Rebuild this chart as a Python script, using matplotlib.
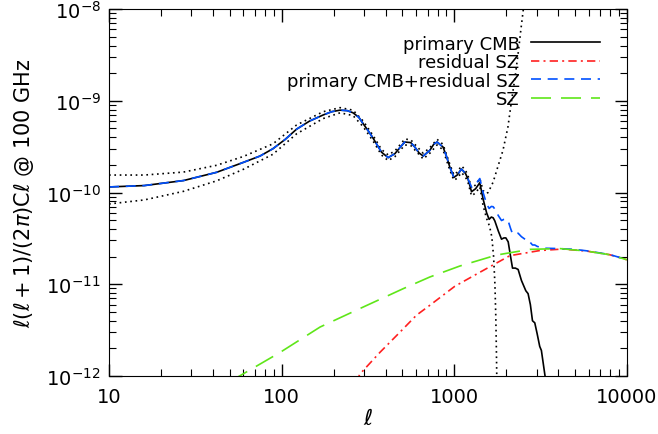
import numpy as np
import matplotlib.pyplot as plt

# primary CMB
ell_cmb = [10, 16, 27, 42, 60, 75, 89, 105, 122, 145, 174, 195, 218, 240, 259, 280,
           297, 320, 340, 379, 414, 453, 485, 517, 560, 591, 625, 661, 722, 760, 795,
           861, 900, 942, 995, 1040, 1101, 1160, 1202,
           1259, 1330, 1406, 1469, 1540, 1592, 1640, 1680, 1718, 1800, 1878, 1940,
           1990, 2053, 2120, 2175, 2260, 2344, 2450, 2597, 2677, 2760, 2839, 2927,
           3020, 3127, 3197, 3342, 3450]
cl_cmb = [1.15e-10, 1.19e-10, 1.35e-10, 1.66e-10, 2.13e-10, 2.5e-10, 3.0e-10, 3.8e-10,
          4.9e-10, 6.0e-10, 7.0e-10, 7.6e-10, 7.9e-10, 7.8e-10, 7.4e-10, 6.6e-10,
          5.6e-10, 4.6e-10, 3.86e-10, 2.75e-10, 2.4e-10, 2.65e-10, 3.1e-10,
          3.55e-10, 3.5e-10, 3.13e-10, 2.7e-10, 2.5e-10, 2.88e-10, 3.35e-10, 3.55e-10,
          3.13e-10, 2.5e-10, 1.9e-10, 1.46e-10, 1.55e-10, 1.8e-10, 1.62e-10, 1.4e-10,
          1.02e-10, 1.1e-10, 1.28e-10, 8.5e-11, 6.0e-11, 5.1e-11, 5.4e-11, 5.3e-11,
          4.9e-11, 3.8e-11, 3.1e-11, 3.2e-11, 3.2e-11, 2.9e-11, 2.0e-11, 1.5e-11,
          1.5e-11, 1.45e-11, 1.1e-11, 8.5e-12, 7.9e-12, 6.0e-12, 4.0e-12, 3.8e-12,
          2.9e-12, 2.1e-12, 1.9e-12, 1.06e-12, 7e-13]

# error envelope (dotted)
ell_up = [10, 16, 27, 42, 60, 89, 122, 174, 218, 259, 297, 340, 379, 414, 453,
          517, 560, 591, 661, 722, 795, 861, 942, 995, 1040, 1101, 1160, 1202,
          1259, 1330, 1406, 1469, 1530, 1572, 1680, 1787, 1915, 2047, 2148, 2250,
          2350, 2430, 2514, 2600]
cl_up = [1.55e-10, 1.55e-10, 1.67e-10, 1.98e-10, 2.47e-10, 3.39e-10, 5.44e-10,
         7.6e-10, 8.41e-10, 7.9e-10, 6.0e-10, 4.13e-10, 2.94e-10, 2.57e-10, 2.84e-10,
         3.83e-10, 3.75e-10, 3.35e-10, 2.68e-10, 3.08e-10, 3.8e-10, 3.35e-10,
         2.04e-10, 1.56e-10, 1.67e-10, 1.95e-10, 1.76e-10, 1.52e-10, 1.12e-10,
         1.21e-10, 1.42e-10, 1.05e-10, 9.8e-11, 1.0e-10, 1.3e-10, 1.9e-10,
         2.88e-10, 5.2e-10, 1.01e-9, 1.8e-9, 3.4e-9, 5.9e-9, 1.0e-8, 1.5e-8]

ell_lo = [10, 16, 27, 42, 60, 89, 122, 174, 218, 259, 297, 340, 379, 414, 453,
          517, 560, 591, 661, 722, 795, 861, 942, 995, 1040, 1101, 1160, 1202,
          1259, 1330, 1406, 1469, 1540, 1600, 1650, 1690, 1720, 1740, 1755, 1770]
cl_lo = [7.5e-11, 8.3e-11, 1.03e-10, 1.34e-10, 1.79e-10, 2.61e-10, 4.36e-10,
         6.4e-10, 7.39e-10, 6.9e-10, 5.2e-10, 3.59e-10, 2.56e-10, 2.23e-10, 2.46e-10,
         3.3e-10, 3.25e-10, 2.91e-10, 2.32e-10, 2.68e-10, 3.3e-10, 2.91e-10,
         1.76e-10, 1.36e-10, 1.43e-10, 1.65e-10, 1.48e-10, 1.28e-10, 9.2e-11,
         9.9e-11, 1.15e-10, 7.2e-11, 5.2e-11, 4.3e-11, 3.3e-11, 2.0e-11, 1.0e-11,
         4.5e-12, 1.8e-12, 6e-13]

# residual SZ
ell_res = [270, 284, 371, 484, 604, 722, 1007, 1406, 2099, 3127, 4245, 5835, 7940, 10000]
cl_res = [8.5e-13, 1.05e-12, 1.81e-12, 3.0e-12, 4.6e-12, 5.9e-12, 9.5e-12,
          1.35e-11, 2.05e-11, 2.33e-11, 2.42e-11, 2.3e-11, 2.1e-11, 1.85e-11]

# primary CMB + residual SZ (same as CMB below l~1200)
n_same = ell_cmb.index(1202) + 1
ell_tot = ell_cmb[:n_same] + [1259, 1330, 1406, 1469, 1540, 1592, 1640, 1680, 1718,
                              1800, 1878, 1940, 1990, 2053, 2120, 2175, 2260, 2344,
                              2450, 2597, 2677, 2760, 2839, 2927, 3020, 3127, 3197,
                              3342, 4000, 5000, 6000, 8000, 10000]
cl_tot = cl_cmb[:n_same] + [1.15e-10, 1.23e-10, 1.42e-10, 1.0e-10, 7.5e-11, 6.7e-11,
                            7.05e-11, 7.0e-11, 6.6e-11, 5.6e-11, 4.95e-11, 5.1e-11,
                            5.15e-11, 4.9e-11, 4.05e-11, 3.55e-11, 3.6e-11, 3.6e-11,
                            3.3e-11, 3.05e-11, 3.04e-11, 2.85e-11, 2.68e-11, 2.68e-11,
                            2.59e-11, 2.54e-11, 2.53e-11, 2.47e-11, 2.45e-11, 2.4e-11,
                            2.3e-11, 2.1e-11, 1.86e-11]

# total SZ
ell_sz = [50, 57, 98, 167, 297, 506, 722, 1077, 1754, 2742, 4083, 5835, 7940, 10000]
cl_sz = [8.8e-13, 1.0e-12, 1.81e-12, 3.42e-12, 5.65e-12, 8.95e-12, 1.2e-11,
         1.58e-11, 2.08e-11, 2.4e-11, 2.45e-11, 2.3e-11, 2.1e-11, 1.85e-11]

fig = plt.figure(figsize=(6.58, 4.35), dpi=100)
ax = fig.add_axes([0.1657, 0.1333, 0.787, 0.8437])

ax.plot(ell_up, cl_up, color='black', lw=1.2, ls=(0, (1, 2.2)))
ax.plot(ell_lo, cl_lo, color='black', lw=1.2, ls=(0, (1, 2.2)))
ax.plot(ell_cmb, cl_cmb, color='black', lw=1.2, label='primary CMB')
ax.plot(ell_res, cl_res, color='#ff2020', lw=1.2, ls=(0, (5, 2.5, 1.2, 2.5)),
        label='residual SZ')
ax.plot(ell_tot, cl_tot, color='#0050ff', lw=1.2, ls=(0, (6, 4)),
        label='primary CMB+residual SZ')
ax.plot(ell_sz, cl_sz, color='#5fe619', lw=1.2, ls=(0, (12, 6)), label='SZ')

ax.set_xscale('log')
ax.set_yscale('log')
ax.set_xlim(10, 10000)
ax.set_ylim(1e-12, 1e-8)

ax.tick_params(which='both', direction='in', top=True, right=True, labelsize=14)
ax.tick_params(which='major', length=9, width=1)
ax.tick_params(which='minor', length=5, width=0.8)
ax.tick_params(axis='x', pad=8)
ax.tick_params(axis='y', pad=6)
ax.set_xticks([10, 100, 1000, 10000])
ax.set_xticklabels(['10', '100', '1000', '10000'])

ax.set_xlabel(r'$\ell$', fontsize=16, labelpad=1)
ax.set_ylabel(r'$\ell(\ell+1)/(2\pi)$C$\ell$ @ 100 GHz', fontsize=15, labelpad=7)

handles, labels = ax.get_legend_handles_labels()
ax.legend(handles, labels, loc='upper right', bbox_to_anchor=(0.948, 0.93),
          frameon=False, markerfirst=False, fontsize=13, handlelength=3.8,
          handletextpad=0.65, labelspacing=0.03, borderpad=0, borderaxespad=0)

fig.savefig('out.png', dpi=100)
